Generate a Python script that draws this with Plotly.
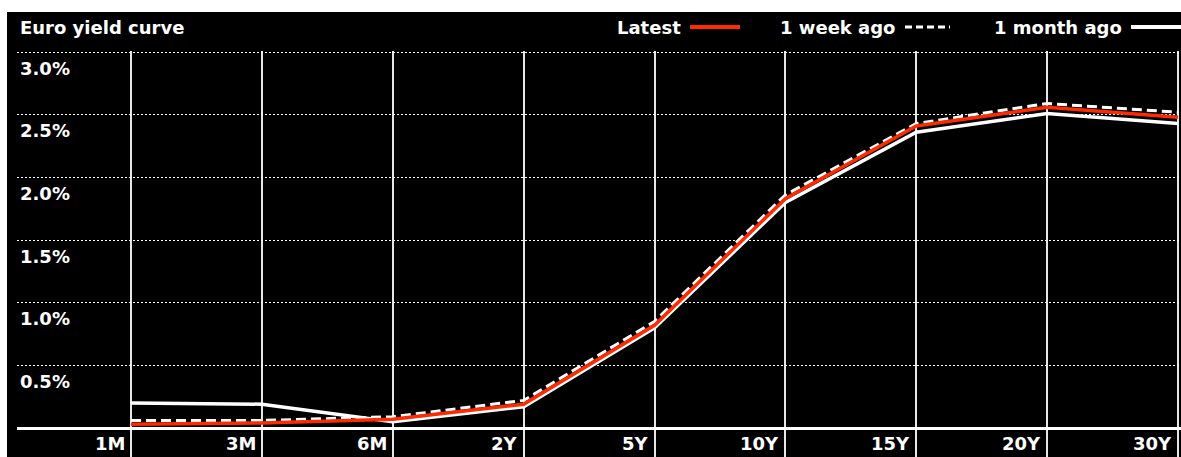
import plotly.graph_objects as go

# Euro government bond yields (%) by maturity
maturities = ["1M", "3M", "6M", "2Y", "5Y", "10Y", "15Y", "20Y", "30Y"]
latest = [0.03, 0.04, 0.07, 0.19, 0.82, 1.83, 2.41, 2.56, 2.48]
week_ago = [0.06, 0.06, 0.09, 0.22, 0.85, 1.86, 2.43, 2.59, 2.52]
month_ago = [0.20, 0.19, 0.05, 0.17, 0.80, 1.80, 2.36, 2.51, 2.43]

y_ticks = [0.5, 1.0, 1.5, 2.0, 2.5, 3.0]
y_tick_labels = ["0.5%", "1.0%", "1.5%", "2.0%", "2.5%", "3.0%"]

TITLE = "Euro yield curve"
SERIES_NAMES = ["Latest", "1 week ago", "1 month ago"]

# ---- page geometry (pixels) ----
W, H = 1181, 457
ML, MR, MT, MB = 17, 0, 51, 0
PLOT_W = W - ML - MR
PLOT_H = H - MT - MB
FIRST_CAT_PX = 131          # x pixel of the first maturity
CAT_STEP_PX = 130.875       # spacing between maturities
ZERO_PX = 428               # y pixel of 0%
PX_PER_UNIT = 125.3

x_lo = (ML - FIRST_CAT_PX) / CAT_STEP_PX
x_hi = (W - MR - FIRST_CAT_PX) / CAT_STEP_PX
y_hi = (ZERO_PX - MT) / PX_PER_UNIT
y_lo = (ZERO_PX - (H - MB)) / PX_PER_UNIT


def px_x(px):
    return (px - ML) / PLOT_W


def px_y(py):
    return (H - MB - py) / PLOT_H


RED = "#ff2a00"
WHITE = "#ffffff"
FONT = dict(family="DejaVu Sans", color=WHITE, weight="bold")

fig = go.Figure()
fig.add_trace(go.Scatter(x=maturities, y=month_ago, mode="lines", name=SERIES_NAMES[2],
                         line=dict(color=WHITE, width=3.5)))
fig.add_trace(go.Scatter(x=maturities, y=week_ago, mode="lines", name=SERIES_NAMES[1],
                         line=dict(color=WHITE, width=3, dash="10px,5px")))
fig.add_trace(go.Scatter(x=maturities, y=latest, mode="lines", name=SERIES_NAMES[0],
                         line=dict(color=RED, width=3.5)))

annotations = []
# y-axis labels sit just below each dotted gridline
for v, lab in zip(y_ticks, y_tick_labels):
    annotations.append(dict(xref="paper", x=0, xanchor="left", xshift=1,
                            yref="y", y=v, yanchor="middle", yshift=-16,
                            text=lab, showarrow=False, font=dict(size=18, **FONT)))
# maturity labels, right-aligned against each vertical gridline
for m in maturities:
    annotations.append(dict(xref="x", x=m, xanchor="right", xshift=-4,
                            yref="paper", y=px_y(443), yanchor="middle",
                            text=m, showarrow=False, font=dict(size=18, **FONT)))
# title
annotations.append(dict(xref="paper", x=px_x(18), xanchor="left",
                        yref="paper", y=px_y(27), yanchor="middle",
                        text=TITLE, showarrow=False, font=dict(size=18, **FONT)))

# legend: label followed by a line sample
legend_items = [
    (SERIES_NAMES[0], 683, 690, 740, dict(color=RED, width=4)),
    (SERIES_NAMES[1], 897, 905, 950, dict(color=WHITE, width=3, dash="7px,4px")),
    (SERIES_NAMES[2], 1124, 1131, 1181, dict(color=WHITE, width=4)),
]
shapes = []
for name, text_end, l0, l1, style in legend_items:
    annotations.append(dict(xref="paper", x=px_x(text_end), xanchor="right",
                            yref="paper", y=px_y(27), yanchor="middle",
                            text=name, showarrow=False, font=dict(size=18, **FONT)))
    shapes.append(dict(type="line", xref="paper", yref="paper",
                       x0=px_x(l0), x1=px_x(l1), y0=px_y(27), y1=px_y(27),
                       line=style, layer="above"))

# white page border on top and left of the black panel
shapes.append(dict(type="rect", xref="paper", yref="paper", x0=px_x(0), x1=px_x(W),
                   y0=px_y(0), y1=px_y(12), fillcolor="white", line=dict(width=0), layer="above"))
shapes.append(dict(type="rect", xref="paper", yref="paper", x0=px_x(0), x1=px_x(7),
                   y0=px_y(0), y1=px_y(H), fillcolor="white", line=dict(width=0), layer="above"))

fig.update_layout(
    width=W, height=H,
    margin=dict(l=ML, r=MR, t=MT, b=MB, pad=0),
    paper_bgcolor="black", plot_bgcolor="black",
    showlegend=False,
    annotations=annotations,
    shapes=shapes,
    xaxis=dict(type="category", range=[x_lo, x_hi], showgrid=True,
               gridcolor="#e6e6e6", gridwidth=1.5, showticklabels=False,
               ticks="", zeroline=False, showline=False, fixedrange=True),
    yaxis=dict(range=[y_lo, y_hi], tickvals=y_ticks, showgrid=True,
               gridcolor=WHITE, gridwidth=1, griddash="2px,2px",
               showticklabels=False, ticks="", zeroline=True,
               zerolinecolor=WHITE, zerolinewidth=2.5, showline=False,
               fixedrange=True),
)

fig.write_html("out.html", config={"displayModeBar": False})
